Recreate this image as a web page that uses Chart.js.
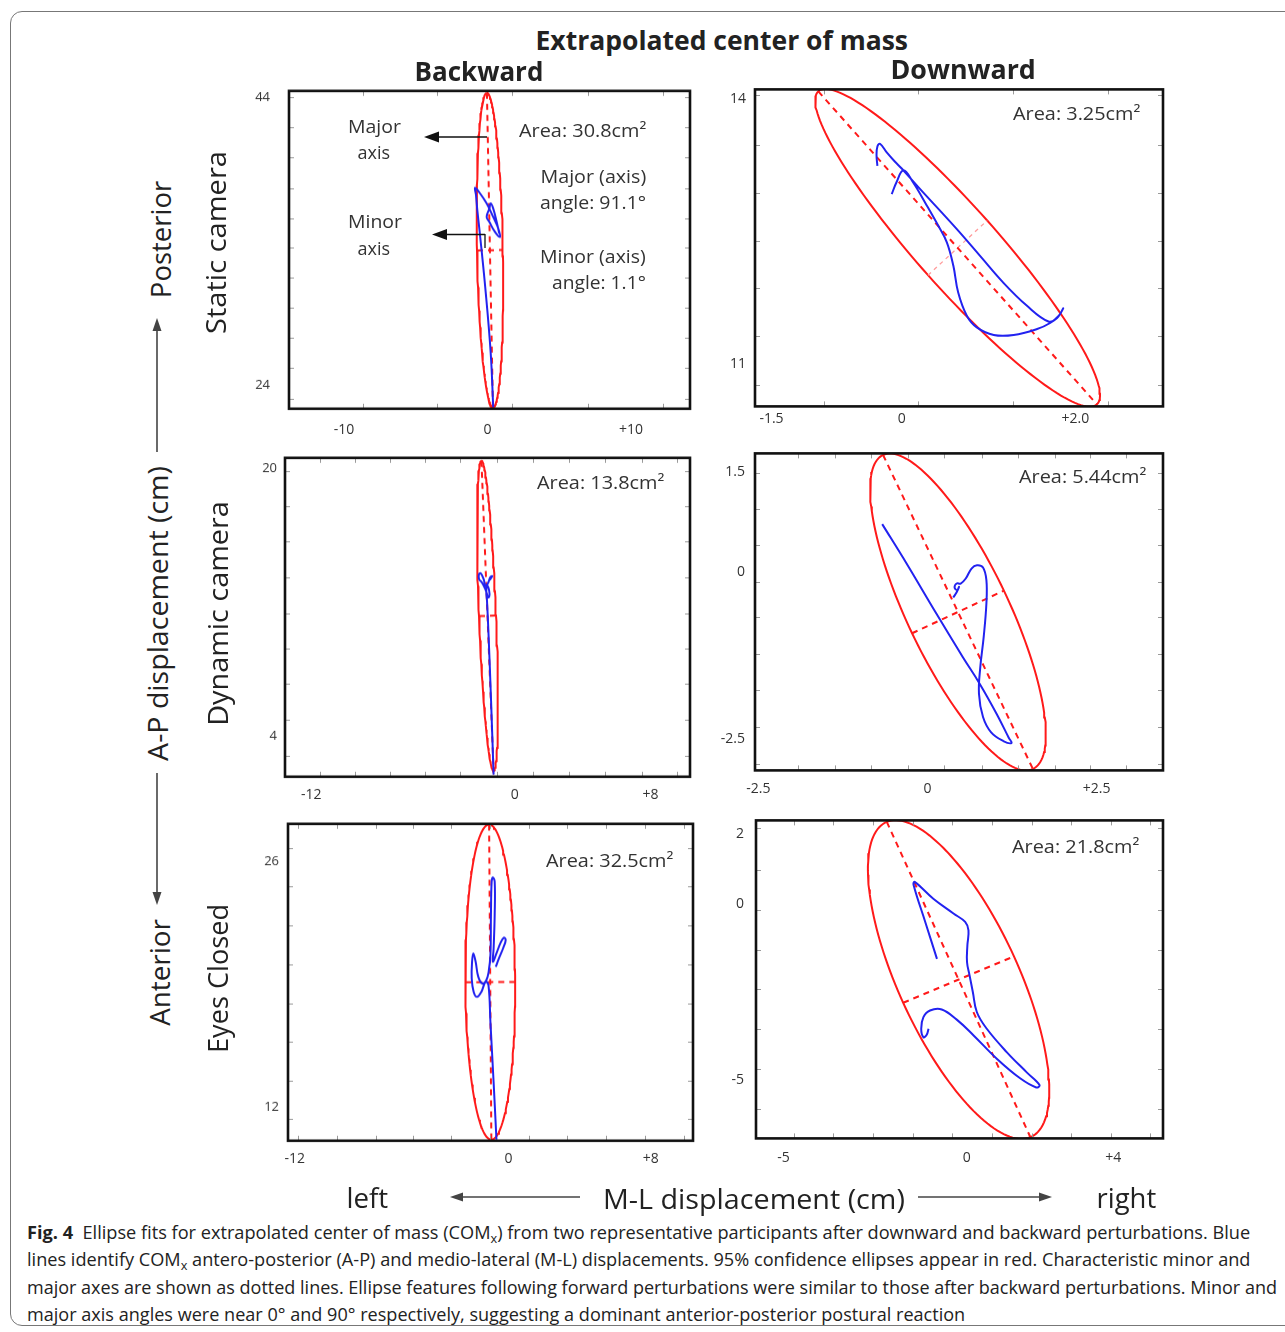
<!DOCTYPE html>
<html><head><meta charset="utf-8">
<script src="https://cdn.jsdelivr.net/npm/chart.js@4.4.0/dist/chart.umd.min.js"></script>
<style>
html,body{margin:0;padding:0;background:#fff;}
body{width:1285px;height:1332px;position:relative;overflow:hidden;font-family:"Open Sans",sans-serif;color:#222;}
.box{position:absolute;left:10px;top:11px;width:1320px;height:1315px;border:1px solid #777;border-radius:12px;box-sizing:border-box;}
.t{position:absolute;white-space:nowrap;line-height:1;}
.pc{position:absolute;}
svg{position:absolute;left:0;top:0;}
</style></head><body>
<div class="box"></div>
<script>
// ---------------- DATA ----------------
const mainTitle = 'Extrapolated center of mass';
const columnTitles = ['Backward', 'Downward'];
const rowTitles = ['Static camera', 'Dynamic camera', 'Eyes Closed'];
const apAxis = ['Posterior', 'A-P displacement (cm)', 'Anterior'];
const mlAxis = ['left', 'M-L displacement (cm)', 'right'];
const areaLabels = ['Area: 30.8cm²', 'Area: 3.25cm²', 'Area: 13.8cm²', 'Area: 5.44cm²', 'Area: 32.5cm²', 'Area: 21.8cm²'];
const angleNotes = ['Major (axis)', 'angle: 91.1°', 'Minor (axis)', 'angle: 1.1°'];
const axisNotes = ['Major', 'axis', 'Minor', 'axis'];
const captionLines = [
  '<b>Fig. 4</b>&nbsp; Ellipse fits for extrapolated center of mass (COM<span style="font-size:0.7em;vertical-align:-0.3em">x</span>) from two representative participants after downward and backward perturbations. Blue',
  'lines identify COM<span style="font-size:0.7em;vertical-align:-0.3em">x</span> antero-posterior (A-P) and medio-lateral (M-L) displacements. 95% confidence ellipses appear in red. Characteristic minor and',
  'major axes are shown as dotted lines. Ellipse features following forward perturbations were similar to those after backward perturbations. Minor and',
  'major axis angles were near 0° and 90° respectively, suggesting a dominant anterior-posterior postural reaction'
];

// Panel 1: Backward / Static camera
const p1X = [0.40,0.22,-0.17,-0.52,-0.71,-0.80,-0.87,-0.52,-0.06,0.40,0.75,0.87,0.52,0.13,-0.06,0.13,0.22,0.40,0.64,0.82];
const p1Y = [22.50,26.32,30.95,34.42,36.16,37.20,37.70,37.32,36.62,35.69,34.89,34.30,34.65,35.34,35.69,36.27,36.62,36.27,35.34,34.54];
const p1Ellipse = [0.17, 33.38, 10.9, 0.9, 91.1];   // cx, cy, semi-major, semi-minor, angle(deg)
const p1XRange = [-13.83, 14.11], p1YRange = [22.40, 44.42];
const p1XTicks = [-10, 0, 10], p1XTickText = ['-10', '0', '+10'];
const p1YTicks = [44, 24], p1YTickText = ['44', '24'];
const p1MinorX = [-8.7, -3.5, 1.7, 7.0, 12.2];
const p1MinorY = [44.0, 41.9, 39.8, 37.7, 35.6, 33.6, 31.5, 29.4, 27.3, 25.2, 23.1];

// Panel 2: Downward / Static camera
const p2X = [-0.28,-0.29,-0.28,-0.25,-0.17,-0.08,0.00,0.21,0.63,0.90,1.17,1.44,1.69,1.79,1.86,1.81,1.71,1.56,1.29,1.06,0.865,0.75,0.65,0.595,0.52,0.42,0.29,0.13,0.02,-0.06,-0.115];
const p2Y = [13.24,13.36,13.46,13.49,13.39,13.29,13.21,12.98,12.53,12.225,11.92,11.66,11.48,11.52,11.63,11.545,11.463,11.395,11.327,11.327,11.413,11.545,11.81,12.11,12.376,12.565,12.79,13.055,13.19,13.055,12.92];
const p2Ellipse = [0.644, 12.313, 2.389, 0.46, 132.2];
const p2XRange = [-1.69, 3.01], p2YRange = [10.52, 14.105];
const p2XTicks = [-1.5, 0, 2], p2XTickText = ['-1.5', '0', '+2.0'];
const p2YTicks = [14, 11], p2YTickText = ['14', '11'];
const p2MinorX = [-0.89, 0.19, 1.28, 2.38];
const p2MinorY = [14.04, 13.48, 12.93, 12.39, 11.86, 11.32, 10.76];

// Panel 3: Backward / Dynamic camera
const p3X = [-1.25,-1.40,-1.55,-1.64,-1.68,-1.61,-1.49,-1.56,-1.74,-1.94,-2.11,-2.11,-2.00,-1.84,-1.72,-1.56,-1.45,-1.33,-1.49];
const p3Y = [1.67,6.10,10.10,12.09,12.69,12.99,12.49,12.29,12.79,13.19,13.39,13.69,13.73,13.39,12.99,13.19,13.49,13.57,13.33];
const p3Ellipse = [-1.61, 11.19, 9.30, 0.5, 92.2];
const p3XRange = [-13.55, 10.33], p3YRange = [1.54, 20.66];
const p3XTicks = [-12, 0, 8], p3XTickText = ['-12', '0', '+8'];
const p3YTicks = [20, 4], p3YTickText = ['20', '4'];
const p3MinorX = [-11.48,-9.41,-7.35,-5.28,-3.22,-1.05,1.07,3.18,5.34,7.51,9.57];
const p3MinorY = [19.88,17.78,15.65,13.49,11.35,9.20,7.10,4.94,2.80];

// Panel 4: Downward / Dynamic camera
const p4X = [-0.67,-0.31,0.13,0.52,0.77,1.02,1.20,1.24,1.12,0.94,0.82,0.76,0.78,0.83,0.87,0.87,0.82,0.73,0.65,0.565,0.49,0.43,0.40,0.44,0.465,0.43,0.38];
const p4Y = [0.72,0.13,-0.62,-1.27,-1.67,-2.12,-2.48,-2.56,-2.53,-2.40,-2.17,-1.82,-1.42,-0.97,-0.47,-0.12,0.07,0.105,0.055,-0.095,-0.17,-0.17,-0.23,-0.27,-0.22,-0.30,-0.38];
const p4Ellipse = [0.45, -0.596, 2.60, 0.75, 115.2];
const p4XRange = [-2.55, 3.48], p4YRange = [-2.97, 1.78];
const p4XTicks = [-2.5, 0, 2.5], p4XTickText = ['-2.5', '0', '+2.5'];
const p4YTicks = [1.5, 0, -2.5], p4YTickText = ['1.5', '0', '-2.5'];
const p4MinorX = [-1.91,-1.37,-0.83,-0.29,0.24,0.80,1.34,1.88,2.40,2.94];
const p4MinorY = [1.48,0.94,0.41,-0.14,-0.67,-1.22,-1.77,-2.32,-2.87];

// Panel 5: Backward / Eyes closed
const p5X = [-0.67,-0.83,-1.01,-1.12,-1.28,-1.52,-1.76,-1.95,-2.06,-2.04,-1.97,-1.84,-1.69,-1.46,-1.24,-1.11,-1.01,-0.98,-0.94,-0.87,-0.77,-0.77,-0.83,-0.87,-0.67,-0.45,-0.26,-0.15,-0.30,-0.53,-0.71];
const p5Y = [10.17,13.44,16.87,18.97,19.16,18.58,18.30,18.58,19.35,20.30,20.78,20.30,19.44,19.06,19.25,19.73,20.68,22.97,24.87,25.10,24.87,22.97,21.06,20.30,20.78,21.35,21.67,21.54,21.06,20.49,20.01];
const p5Ellipse = [-1.02, 19.14, 8.97, 1.4, 90.4];
const p5XRange = [-12.38, 10.37], p5YRange = [10.11, 28.15];
const p5XTicks = [-12, 0, 8], p5XTickText = ['-12', '0', '+8'];
const p5YTicks = [26, 12], p5YTickText = ['26', '12'];
const p5MinorX = [-11.82,-9.65,-7.44,-5.35,-3.20,-1.05,1.16,3.29,5.50,7.66,9.85];
const p5MinorY = [26.78,24.58,22.40,20.15,17.92,15.73,13.54,11.34];

// Panel 6: Downward / Eyes closed
const p6X = [-0.81,-1.13,-1.45,-1.42,-0.91,-0.36,-0.04,0.05,0.02,0.01,0.08,0.17,0.28,0.55,1.10,1.64,1.99,1.90,1.46,0.83,0.19,-0.27,-0.68,-1.00,-1.18,-1.24,-1.18,-1.09,-1.04];
const p6Y = [-1.55,-0.50,0.56,0.64,0.16,-0.26,-0.50,-0.74,-1.17,-1.64,-2.02,-2.50,-3.07,-3.54,-4.21,-4.78,-5.14,-5.21,-4.95,-4.40,-3.73,-3.28,-2.99,-3.02,-3.21,-3.54,-3.78,-3.71,-3.54];
const p6Ellipse = [-0.22, -2.14, 4.896, 1.65, 113.6];
const p6XRange = [-5.75, 5.36], p6YRange = [-6.66, 2.39];
const p6XTicks = [-5, 0, 4], p6XTickText = ['-5', '0', '+4'];
const p6YTicks = [2, 0, -5], p6YTickText = ['2', '0', '-5'];
const p6MinorX = [-4.71,-3.64,-2.56,-1.47,-0.39,0.69,1.78,2.85,3.94,5.01];
const p6MinorY = [2.16,0.97,-0.17,-1.31,-2.42,-3.54,-4.68,-5.82];

// ---------------- LAYOUT (positions / styles) ----------------
const panels = [
  {X:p1X,Y:p1Y,E:p1Ellipse,xr:p1XRange,yr:p1YRange,xt:p1XTicks,xtt:p1XTickText,yt:p1YTicks,ytt:p1YTickText,mx:p1MinorX,my:p1MinorY,
   f:{L:289,R:690,T:91,B:408,yPad:19,xPad:13,yFont:13}},
  {X:p2X,Y:p2Y,E:p2Ellipse,xr:p2XRange,yr:p2YRange,xt:p2XTicks,xtt:p2XTickText,yt:p2YTicks,ytt:p2YTickText,mx:p2MinorX,my:p2MinorY,
   f:{L:755,R:1163,T:89,B:406,yPad:9,xPad:4,yFont:14,lightMinor:true}},
  {X:p3X,Y:p3Y,E:p3Ellipse,xr:p3XRange,yr:p3YRange,xt:p3XTicks,xtt:p3XTickText,yt:p3YTicks,ytt:p3YTickText,mx:p3MinorX,my:p3MinorY,
   f:{L:285,R:690,T:458,B:776,yPad:8,xPad:10,yFont:13}},
  {X:p4X,Y:p4Y,E:p4Ellipse,xr:p4XRange,yr:p4YRange,xt:p4XTicks,xtt:p4XTickText,yt:p4YTicks,ytt:p4YTickText,mx:p4MinorX,my:p4MinorY,
   f:{L:755,R:1163,T:453,B:770,yPad:10,xPad:10,yFont:14}},
  {X:p5X,Y:p5Y,E:p5Ellipse,xr:p5XRange,yr:p5YRange,xt:p5XTicks,xtt:p5XTickText,yt:p5YTicks,ytt:p5YTickText,mx:p5MinorX,my:p5MinorY,
   f:{L:288,R:693,T:824,B:1140,yPad:9,xPad:10,yFont:13}},
  {X:p6X,Y:p6Y,E:p6Ellipse,xr:p6XRange,yr:p6YRange,xt:p6XTicks,xtt:p6XTickText,yt:p6YTicks,ytt:p6YTickText,mx:p6MinorX,my:p6MinorY,
   f:{L:756,R:1163,T:820,B:1138,yPad:12,xPad:11,yFont:14}}
];
const areaPos = [[582,130],[1076,113],[600,482],[1082,476],[609,860],[1075,846]];

const RED = '#ff1a1a', BLUE = '#2222f0';

function ellipsePoints(e) {
  const [cx, cy, a, b, deg] = e; const t = deg * Math.PI / 180; const pts = [];
  for (let i = 0; i <= 160; i++) {
    const s = i / 160 * 2 * Math.PI;
    pts.push({x: cx + a*Math.cos(s)*Math.cos(t) - b*Math.sin(s)*Math.sin(t),
              y: cy + a*Math.cos(s)*Math.sin(t) + b*Math.sin(s)*Math.cos(t)});
  }
  return pts;
}
function axisEnds(e, minor) {
  const [cx, cy, a, b, deg] = e; const t = (deg + (minor ? 90 : 0)) * Math.PI / 180; const r = minor ? b : a;
  return [{x: cx + r*Math.cos(t), y: cy + r*Math.sin(t)}, {x: cx - r*Math.cos(t), y: cy - r*Math.sin(t)}];
}

const framePlugin = {
  id: 'frame',
  afterDatasetsDraw(chart, args, o) {
    const {ctx, chartArea: a, scales: {x, y}} = chart;
    ctx.save();
    ctx.strokeStyle = '#9a9a9a'; ctx.lineWidth = 1;
    ctx.beginPath();
    o.mx.forEach(v => { const p = Math.round(x.getPixelForValue(v)) + 0.5;
      ctx.moveTo(p, a.bottom); ctx.lineTo(p, a.bottom - 5); ctx.moveTo(p, a.top); ctx.lineTo(p, a.top + 5); });
    o.my.forEach(v => { const p = Math.round(y.getPixelForValue(v)) + 0.5;
      ctx.moveTo(a.left, p); ctx.lineTo(a.left + 5, p); ctx.moveTo(a.right, p); ctx.lineTo(a.right - 5, p); });
    ctx.stroke();
    ctx.strokeStyle = '#111'; ctx.lineWidth = 2.6;
    ctx.strokeRect(a.left, a.top, a.right - a.left, a.bottom - a.top);
    ctx.restore();
  }
};

function makePanel(p) {
  const f = p.f, yw = 60, xh = 40, pt = 14, pr = 14;
  const W = yw + (f.R - f.L) + pr, H = pt + (f.B - f.T) + xh;
  const div = document.createElement('div'); div.className = 'pc';
  div.style.left = (f.L - yw) + 'px'; div.style.top = (f.T - pt) + 'px';
  div.style.width = W + 'px'; div.style.height = H + 'px';
  const c = document.createElement('canvas'); div.appendChild(c); document.body.appendChild(div);
  const pts = p.X.map((v, i) => ({x: v, y: p.Y[i]}));
  const chart = new Chart(c, {
    type: 'scatter',
    data: {datasets: [
      {data: pts, showLine: true, borderColor: BLUE, borderWidth: 2, pointRadius: 0, tension: 0.4, fill: false},
      {data: axisEnds(p.E, false), showLine: true, borderColor: RED, borderWidth: 2, borderDash: [6, 5], pointRadius: 0},
      {data: axisEnds(p.E, true), showLine: true, borderColor: f.lightMinor ? '#ff9c9c' : RED, borderWidth: f.lightMinor ? 1.3 : 2, borderDash: f.lightMinor ? [4, 4] : [6, 5], pointRadius: 0},
      {data: ellipsePoints(p.E), showLine: true, borderColor: RED, borderWidth: 2, pointRadius: 0, tension: 0}
    ]},
    options: {
      responsive: true, maintainAspectRatio: false, animation: false, events: [],
      layout: {padding: {top: pt, right: pr, left: 0, bottom: 0}},
      plugins: {legend: {display: false}, tooltip: {enabled: false}, frame: {mx: p.mx, my: p.my}},
      scales: {
        x: {type: 'linear', min: p.xr[0], max: p.xr[1], grid: {display: false, drawTicks: false}, border: {display: false},
            afterBuildTicks: s => { s.ticks = p.xt.map(v => ({value: v})); },
            afterFit: s => { s.height = xh; },
            ticks: {autoSkip: false, maxRotation: 0, padding: f.xPad, color: '#333', font: {family: 'Open Sans', size: 14},
                    callback: (v, i) => p.xtt[i]}},
        y: {type: 'linear', min: p.yr[0], max: p.yr[1], grid: {display: false, drawTicks: false}, border: {display: false},
            afterBuildTicks: s => { s.ticks = p.yt.map(v => ({value: v})); },
            afterFit: s => { s.width = yw; },
            ticks: {autoSkip: false, padding: f.yPad, color: '#333', font: {family: 'Open Sans', size: f.yFont},
                    callback: (v, i) => p.ytt[i]}}
      }
    },
    plugins: [framePlugin]
  });
  // nudge the container so the plot frame lands on the reference frame
  for (let k = 0; k < 3; k++) {
    const a = chart.chartArea;
    const left = parseFloat(div.style.left), top = parseFloat(div.style.top);
    const w = parseFloat(div.style.width), h = parseFloat(div.style.height);
    const dL = f.L - (left + a.left), dT = f.T - (top + a.top);
    const dR = f.R - (left + a.right), dB = f.B - (top + a.bottom);
    if (Math.abs(dL) < 0.5 && Math.abs(dT) < 0.5 && Math.abs(dR) < 0.5 && Math.abs(dB) < 0.5) break;
    div.style.left = (left + dL) + 'px'; div.style.top = (top + dT) + 'px';
    div.style.width = (w + dR - dL) + 'px'; div.style.height = (h + dB - dT) + 'px';
    chart.resize();
  }
}
panels.forEach(makePanel);

// ---------------- TEXT ----------------
function label(html, cx, cy, w, size, bold, rot, color) {
  const d = document.createElement('div'); d.className = 't'; d.innerHTML = html;
  d.style.fontSize = size + 'px'; d.style.fontWeight = bold ? 700 : 400; d.style.color = color || '#222';
  document.body.appendChild(d);
  const nw = d.offsetWidth, nh = d.offsetHeight;
  d.style.left = (cx - nw / 2) + 'px'; d.style.top = (cy - nh / 2) + 'px';
  d.style.transformOrigin = '50% 50%';
  d.style.transform = `rotate(${rot || 0}deg) scaleX(${w / nw})`;
  return d;
}
function leftLabel(html, x, cy, w, size) {
  const d = document.createElement('div'); d.className = 't'; d.innerHTML = html;
  d.style.fontSize = size + 'px'; d.style.color = '#222';
  document.body.appendChild(d);
  const nw = d.offsetWidth, nh = d.offsetHeight;
  d.style.left = x + 'px'; d.style.top = (cy - nh / 2) + 'px';
  d.style.transformOrigin = '0 50%'; d.style.transform = `scaleX(${w / nw})`;
}

label(mainTitle, 722, 39, 373, 27, true);
label(columnTitles[0], 479, 70, 129, 27, true);
label(columnTitles[1], 963, 68, 145, 27, true);

label(apAxis[0], 160, 239, 117, 27, false, -90);
label(apAxis[1], 157, 613, 295, 27, false, -90);
label(apAxis[2], 160, 972, 107, 27, false, -90);
label(rowTitles[0], 216, 242, 183, 27, false, -90);
label(rowTitles[1], 217, 613, 225, 27, false, -90);
label(rowTitles[2], 217, 978, 149, 27, false, -90);

label(mlAxis[0], 367, 1197, 42, 27);
label(mlAxis[1], 754, 1198, 302, 27);
label(mlAxis[2], 1126, 1197, 60, 27);

areaLabels.forEach((t, i) => label(t, areaPos[i][0], areaPos[i][1], 127, 18, false, 0, '#333'));
label(angleNotes[0], 593, 176, 106, 18, false, 0, '#333');
label(angleNotes[1], 593, 202, 106, 18, false, 0, '#333');
label(angleNotes[2], 593, 256, 106, 18, false, 0, '#333');
label(angleNotes[3], 599, 282, 94, 18, false, 0, '#333');
label(axisNotes[0], 374, 126, 53, 18, false, 0, '#333');
label(axisNotes[1], 374, 152, 33, 18, false, 0, '#333');
label(axisNotes[2], 375, 221, 54, 18, false, 0, '#333');
label(axisNotes[3], 374, 248, 33, 18, false, 0, '#333');

const capY = [1234, 1261, 1287, 1314], capW = [1223, 1223, 1250, 938];
captionLines.forEach((t, i) => leftLabel(t, 27, capY[i], capW[i], 18));

// ---------------- ARROWS ----------------
const svgNS = 'http://www.w3.org/2000/svg';
const svg = document.createElementNS(svgNS, 'svg');
svg.setAttribute('width', 1285); svg.setAttribute('height', 1332);
svg.innerHTML = `
<g stroke="#444" stroke-width="1.6" fill="#444">
 <line x1="157" y1="330" x2="157" y2="452"/><polygon stroke="none" points="157,318 152.5,331 161.5,331"/>
 <line x1="157" y1="773" x2="157" y2="893"/><polygon stroke="none" points="157,905 152.5,892 161.5,892"/>
 <line x1="462" y1="1197" x2="580" y2="1197"/><polygon stroke="none" points="450,1197 463,1192.5 463,1201.5"/>
 <line x1="918" y1="1197" x2="1040" y2="1197"/><polygon stroke="none" points="1052,1197 1039,1192.5 1039,1201.5"/>
</g>
<g stroke="#111" stroke-width="1.3" fill="#111">
 <line x1="487" y1="137" x2="438" y2="137"/><polygon stroke="none" points="424,137 439,131.5 439,142.5"/>
 <line x1="485" y1="234.5" x2="446" y2="234.5"/><line x1="485" y1="234" x2="485" y2="248"/>
 <polygon stroke="none" points="432,234.5 447,229 447,240"/>
</g>`;
document.body.appendChild(svg);
</script>
</body></html>
